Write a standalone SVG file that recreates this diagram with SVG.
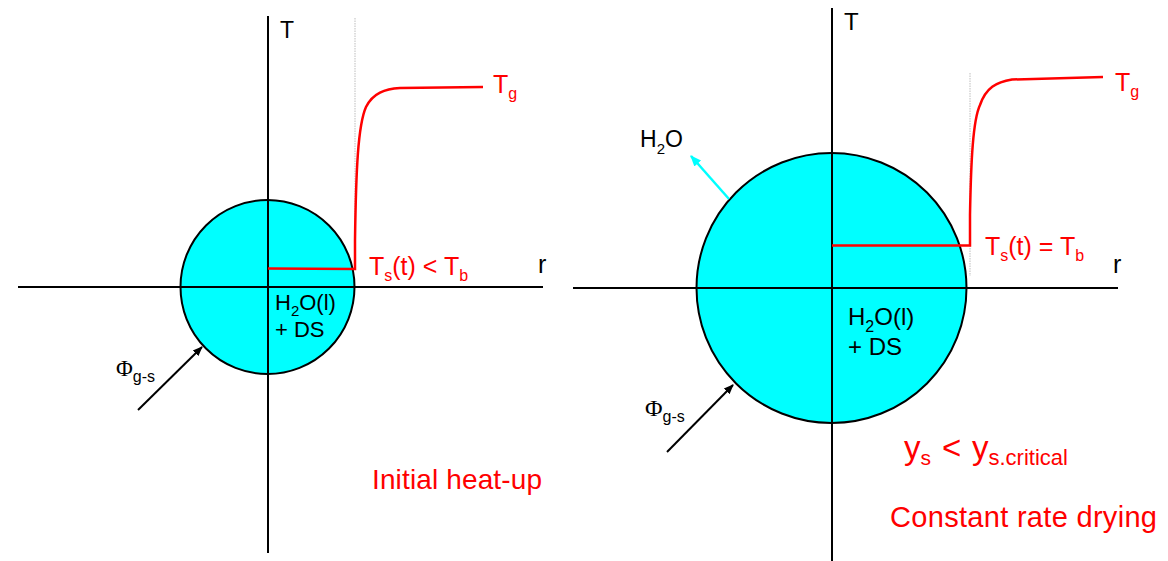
<svg xmlns="http://www.w3.org/2000/svg" width="1168" height="561" viewBox="0 0 1168 561">
<style>
.axis{stroke:#000;stroke-width:2;fill:none}
.ball{fill:#00FFFF;stroke:#000;stroke-width:2}
.red{stroke:#FF0000;stroke-width:2.5;fill:none}
.guide{stroke:#BDBDBD;stroke-width:1;stroke-dasharray:1.5 1;fill:none}
.flux{stroke:#000;stroke-width:2;fill:none;marker-end:url(#ah)}
.vap{stroke:#00FFFF;stroke-width:2.5;fill:none;marker-end:url(#ahc)}
text{font-family:"Liberation Sans",Arial,sans-serif;fill:#000}
.rt{fill:#FF0000}
.phi{font-family:"Liberation Serif","Times New Roman",serif}
</style>
<defs>
<marker id="ah" viewBox="0 0 10 10" refX="9" refY="5" markerWidth="5" markerHeight="5" orient="auto" markerUnits="strokeWidth">
<path d="M0,1 L10,5 L0,9 Z" fill="#000"/>
</marker>
<marker id="ahc" viewBox="0 0 10 10" refX="9" refY="5" markerWidth="4.5" markerHeight="4.5" orient="auto" markerUnits="strokeWidth">
<path d="M0,1 L10,5 L0,9 Z" fill="#00FFFF"/>
</marker>
</defs>

<!-- Left panel: initial heat-up -->
<g id="left-particle">
<circle class="ball" cx="267.5" cy="287" r="87"/>
</g>
<g id="left-axes">
<line class="axis" x1="268" y1="16" x2="268" y2="553"/>
<line class="axis" x1="18" y1="287" x2="543" y2="287"/>
<line class="guide" x1="355" y1="18" x2="355" y2="268"/>
</g>
<g id="left-profile">
<path class="red" d="M268,268.5 L355,269 L355,240 C356,170 358,125 366,107 C373,93 385,89 400,88 L483,87"/>
</g>
<g id="left-connectors">
<line class="flux" x1="138" y1="410" x2="202" y2="347"/>
</g>
<g id="left-labels">
<text x="280" y="38" font-size="23">T</text>
<text x="538" y="273" font-size="25">r</text>
<text class="rt" x="493" y="93" font-size="25">T<tspan font-size="16" dy="6">g</tspan></text>
<text class="rt" x="369" y="275" font-size="25">T<tspan font-size="16" dy="6">s</tspan><tspan dy="-6">(t) &lt; T</tspan><tspan font-size="16" dy="6">b</tspan></text>
<text x="275" y="310" font-size="22">H<tspan font-size="15" dy="6">2</tspan><tspan dy="-6">O(l)</tspan></text>
<text x="275" y="337" font-size="22">+ DS</text>
<text x="116" y="376"><tspan class="phi" font-size="23">Φ</tspan><tspan font-size="16" dy="6">g-s</tspan></text>
<text class="rt" x="372" y="489" font-size="28" textLength="170">Initial heat-up</text>
</g>

<!-- Right panel: constant rate drying -->
<g id="right-particle">
<circle class="ball" cx="831.5" cy="288" r="135"/>
</g>
<g id="right-axes">
<line class="axis" x1="832" y1="8" x2="832" y2="561"/>
<line class="axis" x1="573" y1="288" x2="1118" y2="288"/>
<line class="guide" x1="970" y1="73" x2="970" y2="276"/>
</g>
<g id="right-profile">
<path class="red" d="M832,245.5 L970,245.5 L970,215 C971,160 973,120 980,105 C986,88 996,82 1012,79.5 L1103,77"/>
</g>
<g id="right-connectors">
<line class="flux" x1="667" y1="452" x2="733" y2="385"/>
<line class="vap" x1="729" y1="199" x2="691" y2="156"/>
</g>
<g id="right-labels">
<text x="844" y="30" font-size="24">T</text>
<text x="1113" y="273" font-size="25">r</text>
<text class="rt" x="1115" y="91" font-size="25">T<tspan font-size="16" dy="6">g</tspan></text>
<text class="rt" x="985" y="255" font-size="25">T<tspan font-size="16" dy="6">s</tspan><tspan dy="-6">(t) = T</tspan><tspan font-size="16" dy="6">b</tspan></text>
<text x="640" y="147" font-size="23">H<tspan font-size="15" dy="7">2</tspan><tspan dy="-7">O</tspan></text>
<text x="848" y="325" font-size="24">H<tspan font-size="16" dy="7">2</tspan><tspan dy="-7">O(l)</tspan></text>
<text x="848" y="355" font-size="24">+ DS</text>
<text x="645" y="416"><tspan class="phi" font-size="24">Φ</tspan><tspan font-size="16" dy="6">g-s</tspan></text>
<text class="rt" y="459" font-size="33"><tspan x="904">y</tspan><tspan font-size="21" dy="6">s</tspan><tspan x="942" dy="-6">&lt;</tspan><tspan x="972">y</tspan><tspan font-size="22" dy="6">s.critical</tspan></text>
<text class="rt" x="890" y="527" font-size="29" textLength="267">Constant rate drying</text>
</g>
</svg>
